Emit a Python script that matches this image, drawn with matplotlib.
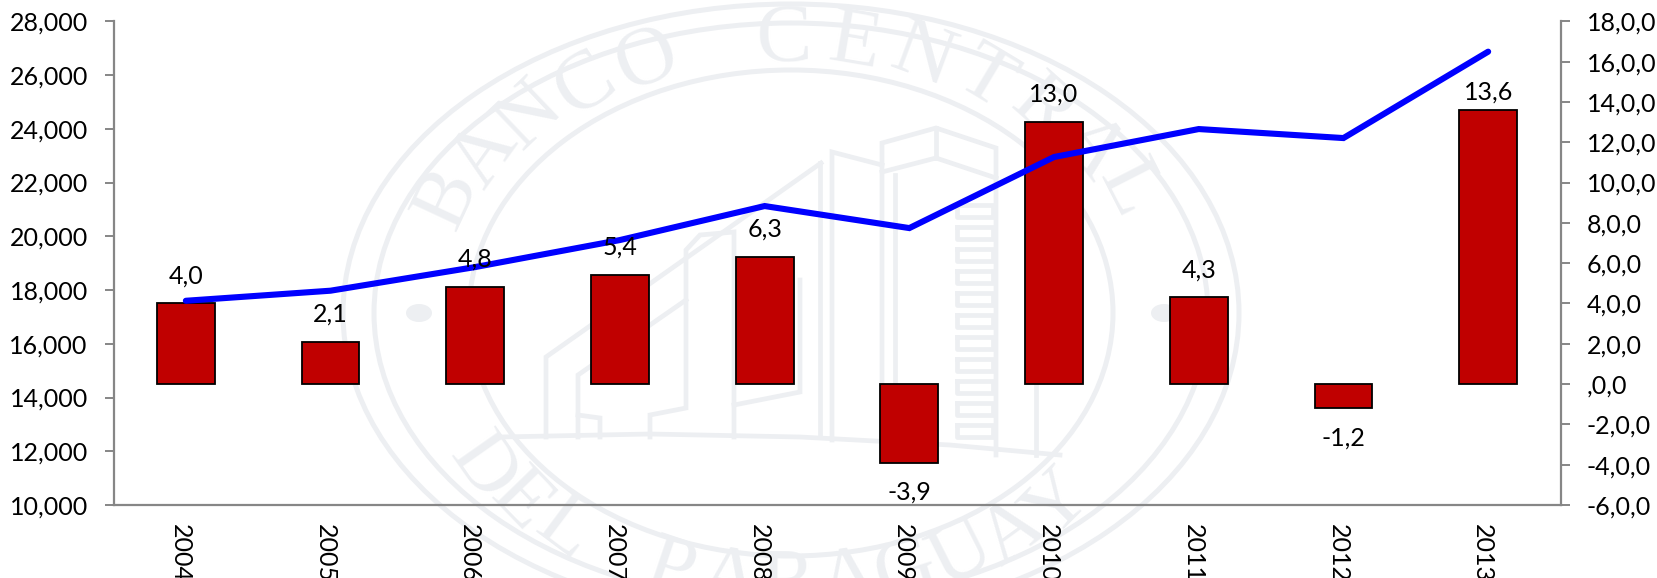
import numpy as np
import matplotlib
matplotlib.use("Agg")
import matplotlib.pyplot as plt
from matplotlib.patches import Ellipse
from matplotlib.transforms import ScaledTranslation

years = ["2004", "2005", "2006", "2007", "2008", "2009", "2010", "2011", "2012", "2013"]
nivel = [17600, 17975, 18855, 19860, 21125, 20305, 22950, 23990, 23655, 26870]
variacion = [4.0, 2.1, 4.8, 5.4, 6.3, -3.9, 13.0, 4.3, -1.2, 13.6]
left_ticks = [10000, 12000, 14000, 16000, 18000, 20000, 22000, 24000, 26000, 28000]
right_ticks = [-6, -4, -2, 0, 2, 4, 6, 8, 10, 12, 14, 16, 18]
right_labels = ["-6,0,0", "-4,0,0", "-2,0,0", ",0,0", "2,0,0", "4,0,0", "6,0,0",
                "8,0,0", "10,0,0", "12,0,0", "14,0,0", "16,0,0", "18,0,0"]

W, H = 1657, 578
FS = 18
GRAY = "#868686"
WM = "#edeff2"
plt.rcParams["font.family"] = ["Lato", "DejaVu Sans"]

fig = plt.figure(figsize=(W / 100, H / 100), dpi=100, facecolor="white")

# marca de agua (sello), en pixeles de la figura
bg = fig.add_axes([0, 0, 1, 1], zorder=0)
bg.set_xlim(0, W); bg.set_ylim(H, 0); bg.axis("off")
cx, cy = 791, 313
for rx, ry, lw in [(448, 309, 3.6), (417, 290, 3.6), (322, 243, 3.6)]:
    bg.add_patch(Ellipse((cx, cy), 2 * rx, 2 * ry, fill=False, ec=WM, lw=lw))
for x in (419, 1164):
    bg.add_patch(Ellipse((x, cy), 26, 18, fc=WM, ec="none"))


def arc_text(text, a0, a1, flip=False):
    for ch, a in zip(text, np.linspace(a0, a1, len(text))):
        r = np.radians(a)
        rot = a + 90 if flip else a - 90
        bg.text(cx + 378 * np.cos(r), cy - 272 * np.sin(r), ch, rotation=rot,
                rotation_mode="anchor", ha="center", va="center", color=WM,
                fontsize=60, family="Liberation Serif")


arc_text("BANCO CENTRAL", 155, 27)
arc_text("DEL PARAGUAY", 215, 315, flip=True)

edificio = [
    [(500, 437), (650, 434), (800, 437), (950, 445), (1060, 455)],
    [(546, 437), (546, 357), (821, 163)],
    [(578, 437), (578, 375), (686, 300)],
    [(578, 415), (600, 418), (600, 437)],
    [(650, 437), (650, 415), (686, 408), (686, 250), (700, 235), (734, 232), (734, 437)],
    [(734, 405), (800, 392), (800, 280)],
    [(820, 437), (820, 163)],
    [(832, 440), (832, 152), (882, 165)],
    [(882, 445), (882, 143), (936, 128), (996, 148), (996, 455)],
    [(882, 172), (936, 158), (996, 178)],
    [(936, 128), (936, 158)],
    [(895, 445), (895, 175)],
    [(1036, 455), (1036, 200)],
]
for path in edificio:
    xs, ys = zip(*path)
    bg.plot(xs, ys, color=WM, lw=3.4, solid_joinstyle="miter")
for y in range(205, 440, 22):
    bg.plot([957, 993, 993, 957, 957], [y, y, y + 12, y + 12, y], color=WM, lw=3.4)

# ejes
rect = [113.5 / W, 1 - 505 / H, (1560.5 - 113.5) / W, (505 - 21.3) / H]
ax2 = fig.add_axes(rect, zorder=1)
ax = fig.add_axes(rect, zorder=2)
ax.patch.set_visible(False)
ax2.patch.set_visible(False)

x = np.arange(len(years))
ax2.bar(x, variacion, width=0.4, color="#C00000", edgecolor="black", linewidth=1.3)
ax2.set_xlim(-0.5, len(years) - 0.5)
ax2.set_ylim(-6, 18)
ax2.set_yticks(right_ticks)
ax2.set_yticklabels(right_labels)
ax2.yaxis.tick_right()
ax2.set_xticks([])
ax2.tick_params(axis="y", length=6.5, width=1.4, color=GRAY, labelsize=FS, pad=12.5)
for s in ("top", "left", "bottom"):
    ax2.spines[s].set_visible(False)
ax2.spines["right"].set_color(GRAY)
ax2.spines["right"].set_linewidth(1.6)

ax.plot(x, nivel, color="#0000ff", lw=4.4, solid_capstyle="round", solid_joinstyle="miter")
ax.set_xlim(-0.5, len(years) - 0.5)
ax.set_ylim(10000, 28000)
ax.set_yticks(left_ticks)
ax.set_yticklabels([f"{v:,}" for v in left_ticks])
ax.set_xticks(x)
ax.set_xticklabels(years, rotation=-90, ha="center", va="top")
ax.tick_params(axis="y", length=6.5, width=1.4, color=GRAY, labelsize=FS, pad=12)
ax.tick_params(axis="x", length=0, labelsize=FS, pad=14)
shift = ScaledTranslation(-4 / 72, 0, fig.dpi_scale_trans)
for lbl in ax.get_xticklabels():
    lbl.set_transform(lbl.get_transform() + shift)
for s in ("top", "right"):
    ax.spines[s].set_visible(False)
for s in ("left", "bottom"):
    ax.spines[s].set_color(GRAY)
    ax.spines[s].set_linewidth(1.6)

# etiquetas de las barras (13,6 va mas pegada a la barra, como en el original)
for xi, v in zip(x, variacion):
    off = 21.5 if v < 0 else (13 if v == 13.6 else 20)
    ax.annotate(f"{v:.1f}".replace(".", ","), xy=(xi, v), xycoords=ax2.transData,
                xytext=(0, off if v > 0 else -off), textcoords="offset points",
                ha="center", va="center", fontsize=FS, annotation_clip=False)

fig.savefig("out.png", dpi=100)
